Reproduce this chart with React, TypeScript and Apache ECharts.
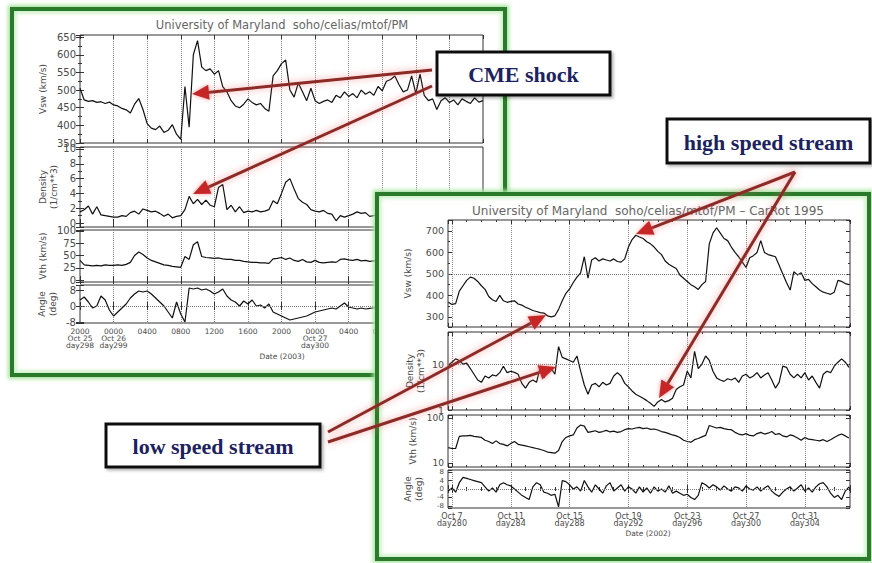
import React, { useEffect, useRef } from "react";
import * as echarts from "echarts";

const W = 872;
const H = 563;

// ---------------- Left panel: Oct 25 20:00 UT (hour 0) .. Oct 27 20:00 UT (hour 48), step 0.5 h
const LEFT_X0 = 0;
const LEFT_DX = 0.5;
const leftTickLabels = [
  "2000\nOct 25\nday298", "0000\nOct 26\nday299", "0400", "0800", "1200", "1600", "2000",
  "0000\nOct 27\nday300", "0400", "0800", "1200", "1600", "2000",
];
const leftVsw = [
  505, 472, 468, 470, 465, 467, 462, 466, 458, 455, 448, 444, 435, 460, 476, 445, 405, 392, 388, 398,
  380, 386, 402, 375, 360, 510, 395, 600, 640, 565, 555, 560, 545, 555, 510, 495, 470, 455, 450, 460,
  475, 465, 458, 462, 448, 440, 540, 555, 575, 585, 500, 480, 520, 495, 470, 505, 470, 462, 468, 472,
  465, 485, 478, 495, 482, 490, 478, 500, 488, 495, 485, 510, 498, 525, 530, 540, 515, 495, 500, 540,
  490, 545, 485, 470, 475, 445, 470, 478, 465, 472, 458, 475, 468, 462, 478, 466, 470,
];
const leftDensity = [
  1.5, 1.8, 2.3, 1.2, 2.2, 1.1, 1.0, 0.9, 0.8, 0.8, 1.0, 0.9, 1.4, 1.6, 1.2, 1.9, 1.7, 1.5, 1.6, 1.3,
  0.9, 1.2, 0.7, 0.9, 1.0, 1.8, 3.6, 2.6, 3.2, 2.5, 3.1, 2.4, 2.2, 4.8, 5.2, 1.8, 2.4, 1.5, 2.2, 1.4,
  1.6, 1.5, 1.7, 1.5, 1.6, 1.8, 3.0, 2.6, 4.0, 5.5, 6.0, 4.6, 3.3, 2.8, 2.5, 1.8, 1.6, 1.5, 1.7, 1.3,
  1.2, 0.3, 1.0, 0.8, 1.0, 1.2, 1.5, 1.3, 1.4, 0.9, 1.0, 1.2, 1.4, 1.1, 1.6, 1.3, 1.8, 1.5, 1.2, 1.4,
  1.7, 1.3, 1.5, 1.2, 1.6, 1.4, 1.3, 1.5, 1.2, 1.4, 1.6, 1.3, 1.5, 1.4, 1.3, 1.5, 1.4,
];
const leftVth = [
  40, 31, 30, 29, 30, 29, 31, 30, 30, 31, 30, 32, 36, 50, 57, 52, 45, 40, 37, 34,
  31, 30, 28, 27, 26, 48, 42, 72, 78, 48, 46, 45, 44, 45, 43, 42, 42, 40, 40, 38,
  37, 36, 36, 35, 35, 34, 43, 44, 46, 42, 45, 40, 38, 42, 37, 36, 40, 36, 35, 36,
  37, 36, 42, 43, 41, 40, 42, 39, 40, 38, 39, 40, 41, 39, 40, 42, 41, 40, 39, 41,
  40, 42, 40, 39, 41, 40, 38, 40, 41, 39, 40, 42, 40, 39, 41, 40, 40,
];
const leftAngle = [
  3, 4.5, 2, -1, 0, 5, 3, -2, -5, -3, -1, 1, 4, 6, 7.5, 7, 7.5, 6, 4, 2,
  0, -3, -6, 2, -4, -8, 9, 8.5, 9, 8, 8.5, 7.5, 6, 7, 8.5, 5, 3, 2, 0, 2.5,
  1, 3, 0, 0.5, -1, 1, -3, -4, -5, -6, -7, -6.5, -6, -5.5, -5, -4, -3, -2.5, -2, -1.5,
  -1, -1.5, 0, 1.5, -0.5, -1, -1.5, -1, -1.5, -1.2, -1, -1, -0.5, -1.5, -1, 0, -0.5, -1, -2, -1,
  -0.5, 0, -1, -1.5, -1, -0.5, -1, 0, -0.5, -1, -1.5, -1, -0.5, -1, -1, -0.5, -1,
];

// ---------------- Right panel: day of year 2002, from day 279.75, step 0.25 d
const RIGHT_X0 = 279.75;
const RIGHT_DX = 0.25;
const rightTickDays = [280, 284, 288, 292, 296, 300, 304];
const rightTickLabels = [
  "Oct 7\nday280", "Oct 11\nday284", "Oct 15\nday288", "Oct 19\nday292",
  "Oct 23\nday296", "Oct 27\nday300", "Oct 31\nday304",
];
const rightVsw = [
  368, 358, 362, 420, 445, 470, 485, 480, 465, 445, 428, 395, 380, 372, 400, 375, 368, 372, 375, 360,
  355, 345, 338, 330, 325, 320, 318, 305, 300, 305, 335, 375, 410, 430, 460, 485, 505, 580, 480, 565,
  575, 560, 570, 565, 560, 570, 558, 555, 570, 625, 660, 680, 672, 665, 650, 640, 625, 605, 590, 560,
  545, 535, 525, 495, 480, 465, 450, 440, 428, 450, 465, 640, 690, 715, 690, 665, 655, 625, 600, 580,
  555, 530, 575, 585, 600, 655, 600, 590, 585, 580, 540, 500, 460, 425, 510, 495, 505, 470, 475, 455,
  440, 425, 415, 410, 405, 415, 470, 465, 455, 450,
];
const rightDensity = [
  9.5, 11, 13, 12, 10, 10.5, 8, 6, 4.5, 4, 5.5, 5, 5.8, 5.5, 6.5, 9, 6.5, 7, 6.6, 6,
  3.8, 3, 4, 4.5, 4, 8.5, 5, 7, 8, 6, 24, 14, 13, 12, 11, 15, 7, 3.5, 2.2, 3.5,
  3.8, 3.2, 4, 3.5, 3.8, 5.5, 6.5, 5.5, 3.8, 3.2, 2.6, 2.2, 2, 1.8, 1.6, 1.4, 1.2, 1.5, 1.7, 1.5,
  1.6, 1.8, 2.8, 3.2, 3.5, 7, 5, 19, 8, 10, 15, 12, 7, 5, 4.5, 4.2, 4.8, 4.5, 5, 4,
  5.5, 6, 5, 5.5, 6.5, 5, 5.8, 6.5, 4.5, 3, 4, 9, 8.5, 6, 5, 6, 5, 6.5, 4.5, 5.5,
  4, 3, 6, 7, 6.5, 9, 11, 13, 11, 8.5,
];
const rightVth = [
  22, 21, 21, 39, 40, 40, 41, 39, 38, 37, 32, 30, 27, 31, 27, 26, 24, 27, 30, 26,
  25, 24, 23, 22, 21, 20, 19, 17.5, 17, 16.5, 19, 30, 37, 40, 42, 60, 70, 66, 48, 50,
  52, 48, 50, 53, 49, 51, 48, 50, 55, 58, 57, 60, 62, 58, 60, 56, 57, 54, 50, 48,
  45, 42, 40, 37, 32, 30, 29, 33, 35, 38, 41, 68, 64, 60, 62, 58, 56, 55, 48, 44,
  42, 45, 41, 40, 45, 48, 44, 46, 50, 43, 45, 40, 38, 42, 40, 36, 32, 37, 34, 33,
  32, 31, 33, 30, 33, 37, 41, 44, 40, 36,
];
const rightAngle = [
  -1, 0.5, -1.5, 3, 5.5, 5, 4.5, 4, 3.5, 3, 1, -1, 0.5, -1.5, 2, 3, 2, 1.5, 0, -1.5,
  -3, -4, -5, 1, 3, 2, -1.5, -2, -3, -2.5, -8.5, 4, 3.5, 2, 0, 1, -1, 4, 1, -1.5,
  2, 0, -2, 1.5, 3, -1, 0.5, 2, -1, 1, 0, -2, 1, -1.5, 0.5, -2, 1, -1, 0, -1.5,
  1.5, -2, -1, -2, -3, -2.5, -4, -5, -3, 3, 2, 0.5, 2, 1, -0.5, 1.5, 0, -1, 1, 0.5,
  -1, 1.5, 0, -0.5, 1, -1, 0.5, 1.5, -1, -2.5, -3.5, -1.5, 0, 1, -1, 0.5, 2, -1, 0.5, -1.5,
  1, 2.5, 3, 1, -2, -4, -3, -5, -1, 1,
];

// ---------------- Annotation texts
const annotationTexts = ["CME shock", "high speed stream", "low speed stream"];

const FONT = "DejaVu Sans";
const LABEL_COLOR = "#4a4a4a";
const TICK_COLOR = "#333";

const near = (a: number, b: number) => Math.abs(a - b) < 1e-6;
const multipleLabel = (step: number) => (v: number) => {
  const k = Math.round(v / step);
  return near(v, k * step) ? String(k * step) : "";
};
const powerLabel = (v: number) => {
  const lv = Math.log10(v);
  return Math.abs(lv - Math.round(lv)) < 1e-6 ? String(Math.round(Math.pow(10, Math.round(lv)))) : "";
};

type PanelSpec = {
  top: number;
  height: number;
  type: "value" | "log";
  min: number;
  max: number;
  step?: number;
  minor?: number;
  labelFn: (v: number) => string;
  labelSize: number;
  name: string;
  nameGap: number;
  values: number[];
  refLine?: number;
  showX: boolean;
  showMin?: boolean;
};

type SideSpec = {
  left: number;
  width: number;
  xMin: number;
  xMax: number;
  xStep: number;
  fixedInterval: boolean;
  xMinor: number;
  x0: number;
  dx: number;
  xLabelFn: (v: number) => string;
  xLabelSize: number;
  xLabelLineHeight: number;
};

// Builds grids/axes/series for a set of stacked panels sharing one time axis.
function buildSide(side: SideSpec, panels: PanelSpec[]) {
  const grid: any[] = [];
  const xAxis: any[] = [];
  const yAxis: any[] = [];
  const series: any[] = [];
  panels.forEach((p, k) => {
    grid.push({
      left: side.left, width: side.width, top: p.top, height: p.height,
      show: true, borderColor: "#333", borderWidth: 1, backgroundColor: "transparent",
    });
    const xBase: any = {
      type: "value", gridIndex: k, min: side.xMin, max: side.xMax,
      axisLine: { show: false },
      axisTick: { show: true, inside: true, length: 4, lineStyle: { color: TICK_COLOR } },
      minorTick: { show: side.xMinor > 0, splitNumber: side.xMinor || 2, length: 2, lineStyle: { color: TICK_COLOR } },
    };
    if (side.fixedInterval) xBase.interval = side.xStep;
    else { xBase.minInterval = side.xStep; xBase.maxInterval = side.xStep; }
    xAxis.push({
      ...xBase, position: "bottom",
      axisLabel: {
        show: p.showX, formatter: side.xLabelFn, fontSize: side.xLabelSize, hideOverlap: false,
        lineHeight: side.xLabelLineHeight, color: LABEL_COLOR, fontFamily: FONT, margin: 5,
      },
      splitLine: { show: true, showMinLine: false, showMaxLine: false, lineStyle: { type: "dotted", color: "#8a8a8a", width: 1 } },
    });
    xAxis.push({ ...xBase, position: "top", axisLabel: { show: false }, splitLine: { show: false } });

    const yBase: any = {
      type: p.type, gridIndex: k, min: p.min, max: p.max,
      axisLine: { show: false },
      axisTick: { show: true, inside: true, length: 4, lineStyle: { color: TICK_COLOR } },
      minorTick: { show: !!p.minor, splitNumber: p.minor || 2, length: 2, lineStyle: { color: TICK_COLOR } },
      splitLine: { show: false },
    };
    if (p.type === "value") { yBase.minInterval = p.step; yBase.maxInterval = p.step; }
    else yBase.logBase = 10;
    const axisLabel: any = {
      formatter: p.labelFn, fontSize: p.labelSize, hideOverlap: false,
      color: LABEL_COLOR, fontFamily: FONT, margin: 4,
    };
    if (p.showMin) axisLabel.showMinLabel = true;
    yAxis.push({
      ...yBase, position: "left", axisLabel,
      name: p.name, nameLocation: "middle", nameGap: p.nameGap, nameRotate: 90,
      nameTextStyle: { fontSize: 9, color: LABEL_COLOR, fontFamily: FONT, lineHeight: 11 },
    });
    yAxis.push({ ...yBase, position: "right", axisLabel: { show: false } });

    series.push({
      type: "line", xAxisIndex: 2 * k, yAxisIndex: 2 * k,
      data: p.values.map((v, i) => [side.x0 + i * side.dx, v]),
      showSymbol: false, symbol: "none", silent: true, clip: true,
      lineStyle: { color: "#111", width: 1.2 },
      markLine: p.refLine != null ? {
        silent: true, symbol: ["none", "none"], label: { show: false },
        lineStyle: { type: "dotted", color: "#777", width: 1 },
        data: [{ yAxis: p.refLine }],
      } : undefined,
    });
  });
  return { grid, xAxis, yAxis, series };
}

function textEl(text: string, x: number, y: number, font: string, fill: string) {
  return {
    type: "text", x, y, silent: true,
    style: { text, font, fill, textAlign: "center", textVerticalAlign: "middle", align: "center", verticalAlign: "middle" },
  };
}

const leftSide: SideSpec = {
  left: 80, width: 403, xMin: 0, xMax: 48, xStep: 4, fixedInterval: true, xMinor: 0,
  x0: LEFT_X0, dx: LEFT_DX,
  xLabelFn: (v: number) => {
    const k = Math.round(v / 4);
    return near(v, k * 4) ? leftTickLabels[k] ?? "" : "";
  },
  xLabelSize: 7.5, xLabelLineHeight: 7,
};
const leftPanels: PanelSpec[] = [
  { top: 35, height: 108, type: "value", min: 350, max: 656, step: 50, minor: 2, labelFn: multipleLabel(50), labelSize: 10, name: "Vsw (km/s)", nameGap: 32, values: leftVsw, showX: false, showMin: true },
  { top: 147, height: 80, type: "value", min: -0.54, max: 10.27, step: 2, minor: 2, labelFn: multipleLabel(2), labelSize: 10, name: "Density\n(1/cm**3)", nameGap: 20, values: leftDensity, showX: false },
  { top: 230, height: 52, type: "value", min: -4, max: 102, step: 25, labelFn: multipleLabel(25), labelSize: 10, name: "Vth (km/s)", nameGap: 32, values: leftVth, showX: false },
  { top: 285, height: 38, type: "value", min: -8.5, max: 10.5, step: 8, labelFn: multipleLabel(8), labelSize: 10, name: "Angle\n(deg)", nameGap: 22, values: leftAngle, refLine: 0, showX: true },
];

const rightSide: SideSpec = {
  left: 448, width: 402, xMin: 279.73, xMax: 307.07, xStep: 4, fixedInterval: false, xMinor: 4,
  x0: RIGHT_X0, dx: RIGHT_DX,
  xLabelFn: (v: number) => {
    const idx = rightTickDays.findIndex((d) => near(d, v));
    return idx >= 0 ? rightTickLabels[idx] : "";
  },
  xLabelSize: 8, xLabelLineHeight: 7,
};
const rightPanels: PanelSpec[] = [
  { top: 220, height: 107, type: "value", min: 253, max: 751, step: 100, minor: 2, labelFn: multipleLabel(100), labelSize: 9.5, name: "Vsw (km/s)", nameGap: 35, values: rightVsw, refLine: 500, showX: false },
  { top: 332, height: 78, type: "log", min: 1, max: 50, labelFn: powerLabel, labelSize: 9.5, name: "Density\n(1/cm**3)", nameGap: 22, values: rightDensity, refLine: 10, showX: false, showMin: true },
  { top: 415, height: 52, type: "log", min: 8.15, max: 116.6, labelFn: powerLabel, labelSize: 9, name: "Vth (km/s)", nameGap: 30, values: rightVth, showX: false },
  { top: 470, height: 38, type: "value", min: -9, max: 9, step: 4, labelFn: multipleLabel(4), labelSize: 7, name: "Angle\n(deg)", nameGap: 24, values: rightAngle, refLine: 0, showX: true },
];

// Adjacent panels go to different chart instances so their edge labels never compete.
function panelOption(side: SideSpec, panels: PanelSpec[], graphic: any[]) {
  return { animation: false, ...buildSide(side, panels), graphic };
}

function arrowEls(from: number[], to: number[]) {
  const dx = to[0] - from[0];
  const dy = to[1] - from[1];
  const L = Math.hypot(dx, dy);
  const ux = dx / L;
  const uy = dy / L;
  const len = 17;
  const half = 7.5;
  const bx = to[0] - ux * len;
  const by = to[1] - uy * len;
  const ex = to[0] - ux * len * 0.6;
  const ey = to[1] - uy * len * 0.6;
  return [
    {
      type: "line", silent: true,
      shape: { x1: from[0], y1: from[1], x2: ex, y2: ey },
      style: { stroke: "#8c2a26", lineWidth: 3, shadowBlur: 7, shadowColor: "rgba(235,90,90,0.6)" },
    },
    {
      type: "polygon", silent: true,
      shape: { points: [[to[0], to[1]], [bx - uy * half, by + ux * half], [bx + uy * half, by - ux * half]] },
      style: { fill: "#c62828", shadowBlur: 4, shadowColor: "rgba(235,90,90,0.6)" },
    },
  ];
}

function boxEls(x: number, y: number, w: number, h: number, text: string) {
  return [
    {
      type: "rect", silent: true,
      shape: { x, y, width: w, height: h },
      style: { fill: "#fff", stroke: "#111", lineWidth: 3, shadowBlur: 3, shadowOffsetX: 2, shadowOffsetY: 2, shadowColor: "rgba(0,0,0,0.3)" },
    },
    textEl(text, x + w / 2, y + h / 2 + 1, `bold 22px "Liberation Serif"`, "#1c2260"),
  ];
}

function annotationOption() {
  const arrows = [
    [[432, 70], [192, 94]],
    [[432, 86], [193, 194]],
    [[795, 172], [636, 234]],
    [[795, 172], [659, 398]],
    [[328, 432], [546, 315]],
    [[328, 442], [556, 367]],
  ];
  const els: any[] = [];
  arrows.forEach(([f, t]) => els.push(...arrowEls(f, t)));
  els.push(...boxEls(437, 52, 173, 43, annotationTexts[0]));
  els.push(...boxEls(667, 119, 203, 44, annotationTexts[1]));
  els.push(...boxEls(106, 424, 214, 43, annotationTexts[2]));
  return { animation: false, graphic: els };
}

function frameStyle(left: number, top: number, width: number, height: number): React.CSSProperties {
  return {
    position: "absolute", left, top, width, height, boxSizing: "border-box",
    border: "4px solid #2b7a2b", background: "#fff",
    boxShadow: "0 0 4px 2px #a6e3a0, inset 0 0 4px 2px #c2efbd",
  };
}

const full: React.CSSProperties = { position: "absolute", left: 0, top: 0, width: W, height: H };

export default function App() {
  const l1 = useRef<HTMLDivElement>(null);
  const l2 = useRef<HTMLDivElement>(null);
  const r1 = useRef<HTMLDivElement>(null);
  const r2 = useRef<HTMLDivElement>(null);
  const ann = useRef<HTMLDivElement>(null);
  useEffect(() => {
    const charts: echarts.ECharts[] = [];
    const mk = (el: HTMLDivElement | null, opt: any) => {
      if (!el) return;
      const c = echarts.init(el, null, { renderer: "svg", width: W, height: H });
      c.setOption(opt);
      charts.push(c);
    };
    mk(l1.current, panelOption(leftSide, [leftPanels[0], leftPanels[2]], [
      textEl("University of Maryland  soho/celias/mtof/PM", 282, 25, `11.5px "${FONT}"`, "#666"),
    ]));
    mk(l2.current, panelOption(leftSide, [leftPanels[1], leftPanels[3]], [
      textEl("Date (2003)", 282, 356, `7.5px "${FONT}"`, LABEL_COLOR),
    ]));
    mk(r1.current, panelOption(rightSide, [rightPanels[0], rightPanels[2]], [
      textEl("University of Maryland  soho/celias/mtof/PM \u2013 CarRot 1995", 648, 211, `12px "${FONT}"`, "#666"),
    ]));
    mk(r2.current, panelOption(rightSide, [rightPanels[1], rightPanels[3]], [
      textEl("Date (2002)", 648, 533, `7.5px "${FONT}"`, LABEL_COLOR),
    ]));
    mk(ann.current, annotationOption());
    return () => charts.forEach((c) => c.dispose());
  }, []);
  return (
    <div style={{ position: "fixed", left: 0, top: 0, width: W, height: H, background: "#fff", overflow: "hidden" }}>
      <div style={frameStyle(10, 7, 497, 370)} />
      <div ref={l1} style={full} />
      <div ref={l2} style={full} />
      <div style={frameStyle(375, 192, 496, 369)} />
      <div ref={r1} style={full} />
      <div ref={r2} style={full} />
      <div ref={ann} style={full} />
    </div>
  );
}
